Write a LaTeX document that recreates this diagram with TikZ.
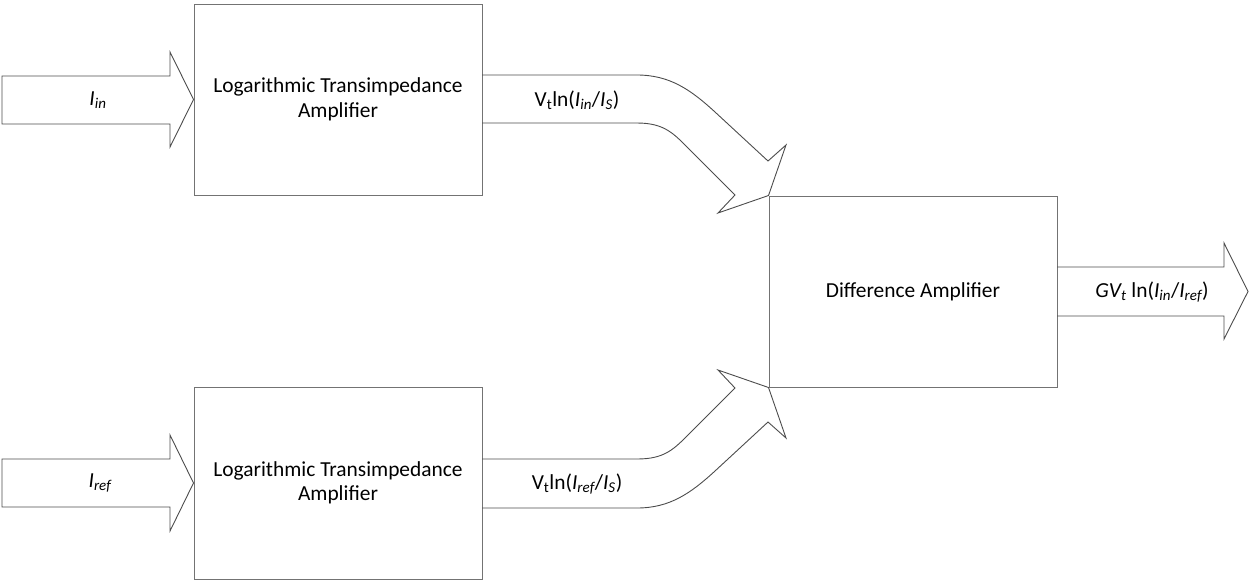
\documentclass[tikz,border=0pt]{standalone}
\usepackage{fontspec}
\setmainfont{Carlito}
\begin{document}
\begin{tikzpicture}[x=1pt,y=-1pt,
  blk/.style={draw=black!55, line width=1pt, minimum width=288pt, minimum height=191pt, inner sep=0pt, align=center, font=\fontsize{21.4}{24.5}\selectfont},
  barrow/.style={draw=black!70, line width=0.9pt, line join=miter},
  lbl/.style={font=\fontsize{21.4}{24.5}\selectfont, inner sep=0pt}]
\useasboundingbox (0,0) rectangle (1249,582);
\node[blk] (log1) at (338,99.5) {Logarithmic Transimpedance\\Amplifier};
\node[blk, minimum height=192pt] (log2) at (338,483) {Logarithmic Transimpedance\\Amplifier};
\node[blk] (diff) at (913,291.5) {Difference Amplifier};
% input arrows
\draw[barrow] (2,76) -- (170,76) -- (170,52) -- (log1.west) -- (170,147) -- (170,124) -- (2,124) -- cycle;
\draw[barrow] (2,459) -- (170,459) -- (170,435) -- (log2.west) -- (170,531) -- (170,507) -- (2,507) -- cycle;
% output arrow
\draw[barrow] (1057,267) -- (1224,267) -- (1224,243) -- (1248,291.5) -- (1224,339) -- (1224,316) -- (1057,316);
% curved arrows
\draw[barrow] (482,75) -- (637,75) .. controls (670,75) and (691,90) .. (715,112) -- (768,161) -- (786,145) -- (diff.north west) -- (718,213) -- (735,195) -- (690,150) .. controls (674,134) and (665,123) .. (637,123) -- (482,123);
\draw[barrow] (482,459) -- (637,459) .. controls (665,459) and (674,449) .. (690,433) -- (735,388) -- (718,370) -- (diff.south west) -- (786,438) -- (768,422) -- (715,471) .. controls (691,493) and (670,508) .. (637,508) -- (482,508);
% labels
\node[lbl] (lin) at (98,100) {\textit{I\textsubscript{in}}};
\node[lbl] (lref) at (100,483) {\textit{I\textsubscript{ref}}};
\node[lbl] (l1) at (577,100) {V\textsubscript{t}ln(\textit{I\textsubscript{in}}/\textit{I\textsubscript{S}})};
\node[lbl] (l2) at (577,484) {V\textsubscript{t}ln(\textit{I\textsubscript{ref}}/\textit{I\textsubscript{S}})};
\node[lbl] (l3) at (1152,292) {\textit{GV\textsubscript{t}} ln(\textit{I\textsubscript{in}}/\textit{I\textsubscript{ref}})};
\end{tikzpicture}
\end{document}
